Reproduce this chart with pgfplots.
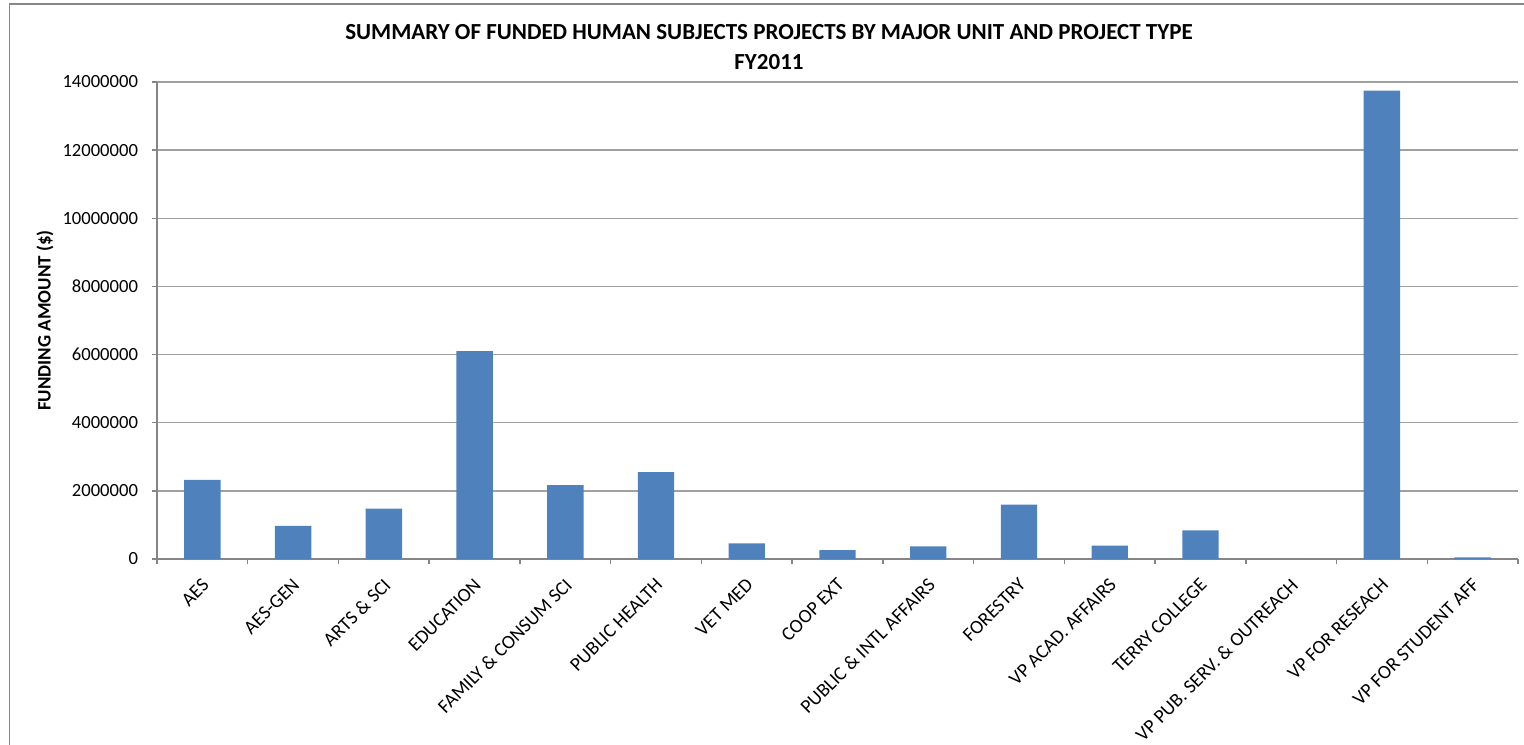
\documentclass[border=0pt]{standalone}
\usepackage{fontspec}
\setmainfont{Carlito}
\usepackage{pgfplots}
\pgfplotsset{compat=1.18}
\definecolor{barblue}{HTML}{4F81BD}
\definecolor{axgray}{HTML}{868686}
\definecolor{gridgray}{HTML}{A0A0A0}
\begin{document}
\begin{tikzpicture}
\useasboundingbox (0,0) rectangle (762pt,-372pt);
\draw[axgray, line width=0.75pt] (4.75pt,-390pt) -- (4.75pt,-2pt) -- (790pt,-2pt);
\node[font=\fontsize{11.5}{15}\selectfont\bfseries, align=center] at (384.5pt,-23.5pt)
  {SUMMARY OF FUNDED HUMAN SUBJECTS PROJECTS BY MAJOR UNIT AND PROJECT TYPE\\FY2011};
\begin{axis}[
  at={(78.5pt,-279.5pt)}, anchor=south west,
  scale only axis, width=680.5pt, height=238.5pt,
  ybar, bar width=18.2pt,
  ymin=0, ymax=14000000, xmin=-0.5, xmax=14.5,
  axis x line*=bottom, axis y line*=left,
  axis line style={axgray, line width=0.75pt, -},
  ytick={0,2000000,4000000,6000000,8000000,10000000,12000000,14000000},
  scaled y ticks=false,
  /pgf/number format/.cd, fixed, 1000 sep={}, assume math mode=true,
  /pgfplots/.cd,
  ymajorgrids, grid style={gridgray, line width=0.75pt},
  tick align=outside, major tick length=2.5pt, minor tick length=2.5pt,
  tick style={axgray, line width=0.75pt},
  xtick={0,...,14},
  minor xtick={-0.5,0.5,...,14.5},
  major x tick style={draw=none},
  xticklabels={AES, AES-GEN, ARTS \& SCI, EDUCATION, FAMILY \& CONSUM SCI, PUBLIC HEALTH, VET MED, COOP EXT, PUBLIC \& INTL AFFAIRS, FORESTRY, VP ACAD. AFFAIRS, TERRY COLLEGE, VP PUB. SERV. \& OUTREACH, VP FOR RESEACH, VP FOR STUDENT AFF},
  xticklabel style={rotate=45, anchor=north east, font=\fontsize{9.7}{12}\selectfont, inner sep=1pt, yshift=-3pt, xshift=-4pt},
  yticklabel style={font=\fontsize{9.3}{11}\selectfont, xshift=-3.5pt},
  ylabel={FUNDING AMOUNT (\$)},
  every axis y label/.style={at={(axis description cs:-0.0823,0.5)}, rotate=90, anchor=center, font=\fontsize{9.5}{11}\selectfont\bfseries},
  clip=false,
]
\addplot[fill=barblue, draw=none] coordinates {
  (0,2320000) (1,970000) (2,1480000) (3,6100000) (4,2170000)
  (5,2550000) (6,460000) (7,264000) (8,370000) (9,1595000)
  (10,390000) (11,840000) (12,0) (13,13750000) (14,50000)
};
\end{axis}
\end{tikzpicture}
\end{document}
